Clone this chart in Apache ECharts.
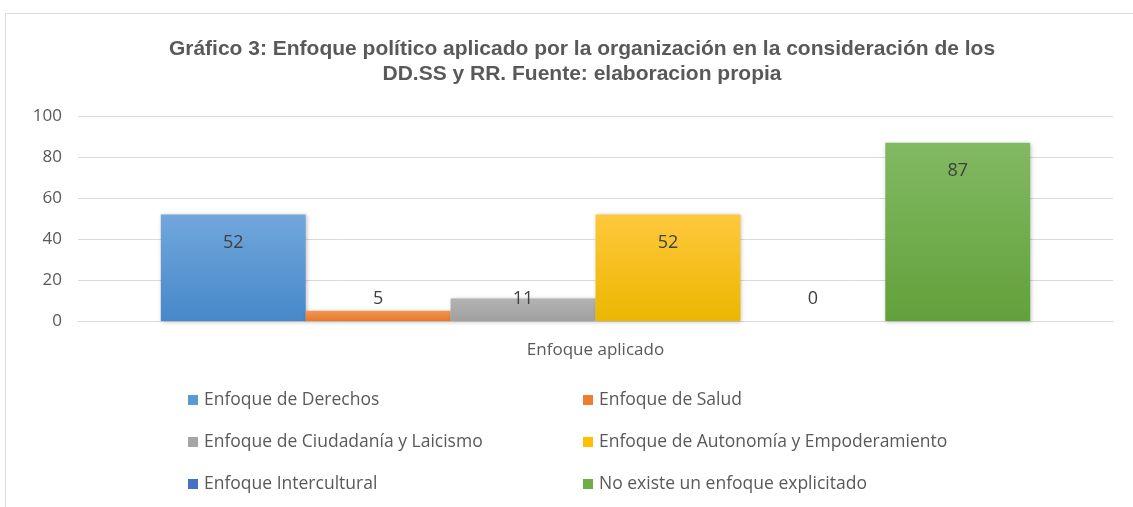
<!DOCTYPE html>
<html><head><meta charset="utf-8">
<script src="https://cdn.jsdelivr.net/npm/echarts@6/dist/echarts.min.js"></script>
<style>html,body{margin:0;padding:0;background:#fff}#c{width:1133px;height:507px}</style>
</head><body><div id="c"></div>
<script>
var categories = ['Enfoque aplicado'];
var seriesNames = ['Enfoque de Derechos','Enfoque de Salud','Enfoque de Ciudadanía y Laicismo','Enfoque de Autonomía y Empoderamiento','Enfoque Intercultural','No existe un enfoque explicitado'];
var seriesValues = [[52],[5],[11],[52],[0],[87]];
var yTicks = [0,20,40,60,80,100];
var colorsTop = ['#72a7dc','#f3965a','#b3b3b3','#ffc83d','#5a85cf','#82b963'];
var colorsBottom = ['#4688c9','#e97826','#a0a0a0','#ebb700','#3e6bbb','#62a13a'];
var legendColors = ['#5b9bd5','#ed7d31','#a5a5a5','#ffc000','#4472c4','#70ad47'];
var FONT = 'Open Sans';
var chart = echarts.init(document.getElementById('c'));
var series = seriesNames.map(function(n,i){
  return {
    name: n, type: 'bar', barGap: '0%', barCategoryGap: '16%',
    itemStyle: {
      color: new echarts.graphic.LinearGradient(0,0,0,1,[{offset:0,color:colorsTop[i]},{offset:1,color:colorsBottom[i]}]),
      shadowBlur: 4, shadowColor: 'rgba(0,0,0,0.25)', shadowOffsetX: 1, shadowOffsetY: 1
    },
    label: {
      show: true,
      position: seriesValues[i][0] > 20 ? 'insideTop' : 'insideBottom',
      distance: seriesValues[i][0] > 20 ? 19 : 13,
      color: '#404040', fontFamily: FONT, fontSize: 18
    },
    data: seriesValues[i]
  };
});
var leftNames = [seriesNames[0], seriesNames[2], seriesNames[4]];
var rightNames = [seriesNames[1], seriesNames[3], seriesNames[5]];
function legendData(names){ return names.map(function(n){ var i=seriesNames.indexOf(n); return {name:n, itemStyle:{color:legendColors[i]}}; }); }
var legendCommon = {orient:'vertical', top: 383, itemWidth: 10, itemHeight: 10, itemGap: 18, icon:'rect',
  textStyle:{color:'#595959', fontFamily: FONT, fontSize: 17.5, lineHeight: 24, padding:[0,0,0,1]}};
chart.setOption({
  animation: false,
  title: {
    text: 'Gráfico 3: Enfoque político aplicado por la organización en la consideración de los\nDD.SS y RR. Fuente: elaboracion propia',
    left: 577, textAlign: 'center', top: 32,
    textStyle: {fontFamily: 'Liberation Sans', fontWeight: 'bold', fontSize: 21, color: '#595959', lineHeight: 25}
  },
  graphic: [{type:'rect', shape:{x:5.5, y:13.5, width:1140, height:520}, style:{fill:'none', stroke:'#d9d9d9', lineWidth:1}, silent:true, z:-10}],
  legend: [
    Object.assign({left: 183, data: legendData(leftNames)}, legendCommon),
    Object.assign({left: 578, data: legendData(rightNames)}, legendCommon)
  ],
  grid: {left: 78, right: 20, top: 116, bottom: 186},
  xAxis: {
    type: 'category', data: categories,
    axisLine: {lineStyle: {color: '#d9d9d9', width: 1}},
    axisTick: {show: false},
    axisLabel: {color: '#595959', fontFamily: FONT, fontSize: 17, margin: 21}
  },
  yAxis: {
    type: 'value', min: yTicks[0], max: yTicks[yTicks.length-1], interval: 20,
    axisLine: {show: false}, axisTick: {show: false},
    splitLine: {lineStyle: {color: '#d9d9d9', width: 1}},
    axisLabel: {color: '#595959', fontFamily: FONT, fontSize: 17, margin: 16}
  },
  series: series
});
</script></body></html>
